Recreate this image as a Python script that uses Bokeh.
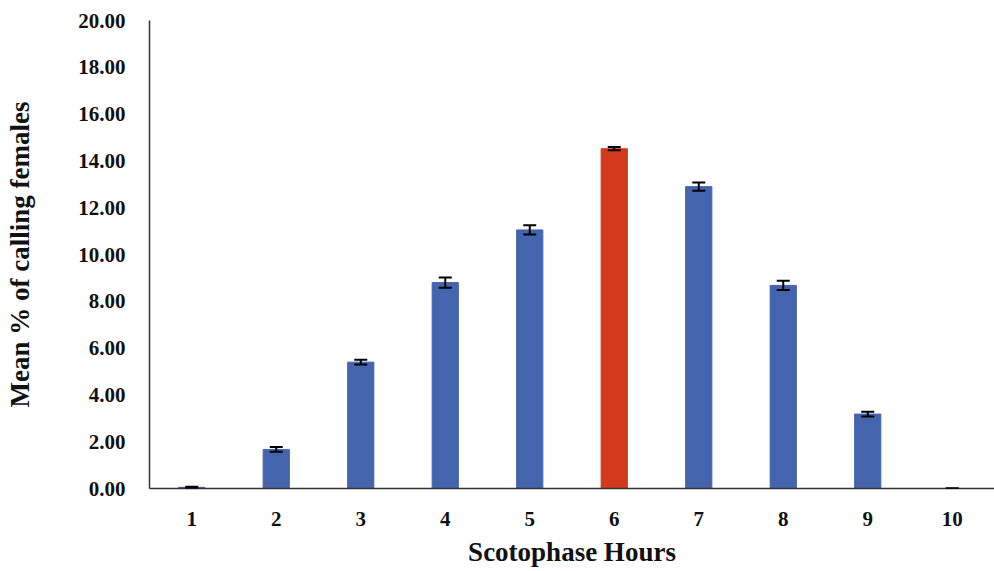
from bokeh.plotting import figure
from bokeh.models import ColumnDataSource, Whisker, TeeHead, FixedTicker, NumeralTickFormatter, Range1d
from bokeh.embed import file_html
from bokeh.resources import INLINE

# Mean % of calling females per scotophase hour, with standard errors
hours = [1, 2, 3, 4, 5, 6, 7, 8, 9, 10]
mean_calling = [0.05, 1.67, 5.40, 8.80, 11.05, 14.52, 12.90, 8.68, 3.18, 0.0]
std_error = [0.03, 0.10, 0.10, 0.22, 0.20, 0.07, 0.18, 0.20, 0.10, 0.0]
bar_colors = ["#4464ae"] * 5 + ["#d2391d"] + ["#4464ae"] * 4

src = ColumnDataSource(dict(
    x=hours,
    y=mean_calling,
    upper=[m + e for m, e in zip(mean_calling, std_error)],
    lower=[m - e for m, e in zip(mean_calling, std_error)],
    color=bar_colors,
))

p = figure(width=994, height=571, output_backend="svg", toolbar_location=None,
           x_range=Range1d(0.5, 10.5), y_range=Range1d(0, 20),
           min_border_left=149, min_border_right=0, min_border_top=20, min_border_bottom=83)

p.vbar(x="x", top="y", width=0.31, color="color", source=src)

whisk = Whisker(base="x", upper="upper", lower="lower", source=src, level="overlay",
                line_color="black", line_width=2,
                upper_head=TeeHead(size=13, line_color="black", line_width=2),
                lower_head=TeeHead(size=13, line_color="black", line_width=2))
p.add_layout(whisk)

font = "Liberation Serif"
p.xaxis.ticker = FixedTicker(ticks=hours)
p.yaxis.ticker = FixedTicker(ticks=list(range(0, 21, 2)))
p.yaxis.formatter = NumeralTickFormatter(format="0.00")

for ax in (p.xaxis[0], p.yaxis[0]):
    ax.major_label_text_font = font
    ax.major_label_text_font_style = "bold"
    ax.major_label_text_font_size = "21px"
    ax.major_label_text_color = "#111111"
    ax.axis_label_text_font = font
    ax.axis_label_text_font_style = "bold"
    ax.axis_label_text_font_size = "27px"
    ax.axis_label_text_color = "#111111"
    ax.major_tick_line_color = None
    ax.minor_tick_line_color = None
    ax.axis_line_color = "#333333"
    ax.axis_line_width = 1.5

p.xaxis.axis_label = "Scotophase Hours"
p.yaxis.axis_label = "Mean % of calling females"
p.xaxis.major_label_standoff = 17
p.yaxis.major_label_standoff = 18
p.xaxis.axis_label_standoff = 8
p.yaxis.axis_label_standoff = 40

p.xgrid.grid_line_color = None
p.ygrid.grid_line_color = None
p.outline_line_color = None
p.background_fill_color = "white"
p.border_fill_color = "white"

open("out.html", "w").write(file_html(p, INLINE))
